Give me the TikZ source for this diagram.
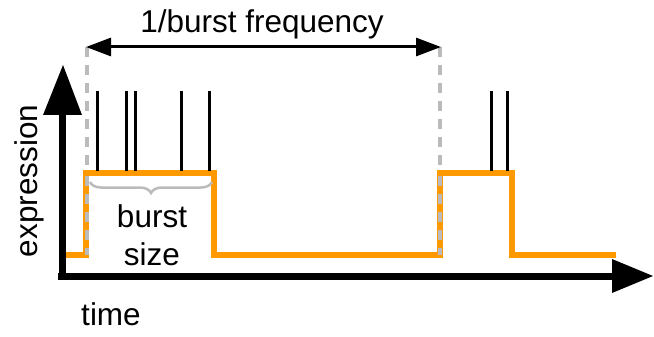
\documentclass[tikz,border=0pt]{standalone}
\usepackage{fontspec}
\setmainfont{Liberation Sans}
\usetikzlibrary{decorations.pathreplacing,arrows.meta}
\definecolor{burstorange}{HTML}{FF9900}
\definecolor{dashgray}{HTML}{BBBBBB}
\begin{document}
\begin{tikzpicture}[x=1pt,y=-1pt,
  lbl/.style={font=\fontsize{31.5}{38}\selectfont, inner sep=0pt},
  axisline/.style={line width=7pt, black},
  signal/.style={line width=6.5pt, burstorange, line join=miter},
  spike/.style={line width=3pt, black},
  guide/.style={line width=3.5pt, dashgray, dash pattern=on 10pt off 8pt},
  period/.style={line width=3pt, black, {Triangle[length=25pt,width=18pt]}-{Triangle[length=25pt,width=18pt]}, shorten <=-1pt, shorten >=-1pt},
  sizebrace/.style={line width=2.5pt, dashgray, decorate, decoration={brace, amplitude=11pt, mirror}}
]
\useasboundingbox (0,0) rectangle (654,337);

% coordinates
\coordinate (o) at (62,276);
\coordinate (ytop) at (62,115);
\coordinate (xend) at (613,276);
\coordinate (g1t) at (87,47);
\coordinate (g1b) at (87,255);
\coordinate (g2t) at (440,47);
\coordinate (g2b) at (440,255);

% guides
\draw[guide] (g1t) -- (g1b);
\draw[guide] (g2t) -- (g2b);

% signal
\draw[signal] (63,255) -- (86,255) -- (86,173) -- (214,173) -- (214,255) -- (440,255) -- (440,173) -- (512,173) -- (512,255) -- (616,255);
\draw[guide] (87,176) -- (87,255);
\draw[guide] (440,176) -- (440,255);

% spikes
\foreach \i/\x in {1/97,2/126,3/135,4/181,5/209,6/491,7/507} {
  \coordinate (s\i t) at (\x,91);
  \coordinate (s\i b) at (\x,171);
  \draw[spike] (s\i t) -- (s\i b);
}

% axes
\draw[axisline] (58,276) -- (xend);
\draw[axisline] (o) -- (ytop);
\fill (612,259) -- (653,276) -- (612,293) -- cycle;
\fill (43,115) -- (63,65) -- (82,115) -- cycle;

% period arrow
\coordinate (pa) at (87,47);
\coordinate (pb) at (440,47);
\draw[period] (pa) -- (pb);
\node[lbl, anchor=base] (freq) at (262,33) {1/burst frequency};

% brace
\coordinate (ba) at (90,182);
\coordinate (bb) at (212,182);
\draw[sizebrace] (ba) -- (bb);
\node[lbl, anchor=base] (burst) at (152,227) {burst};
\node[lbl, anchor=base] (size) at (152,265) {size};

% axis labels
\node[lbl, anchor=base] (time) at (111,325) {time};
\node[lbl, anchor=base, rotate=90] (expr) at (37,181) {expression};
\end{tikzpicture}
\end{document}
